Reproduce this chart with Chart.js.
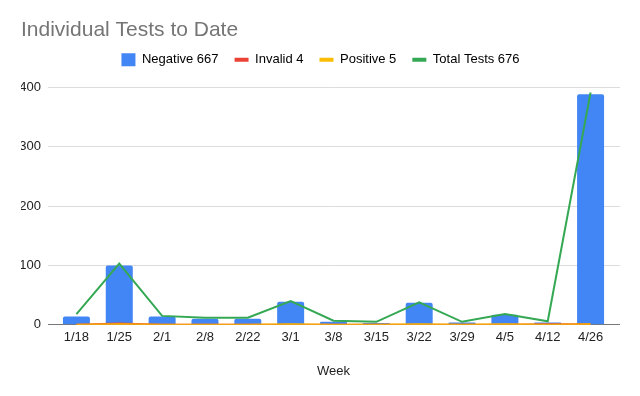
<!DOCTYPE html>
<html>
<head>
<meta charset="utf-8">
<script src="https://cdn.jsdelivr.net/npm/chart.js@4"></script>
<style>
  body { margin: 0; background: #fff; }
  #wrap { width: 640px; height: 396px; }
</style>
</head>
<body>
<div id="wrap"><canvas id="js--chart"></canvas></div>
<script>
// weeks and counts
const weeks = ["1/18", "1/25", "2/1", "2/8", "2/22", "3/1", "3/8", "3/15", "3/22", "3/29", "4/5", "4/12", "4/26"];
const negative = [14, 100, 14, 10, 10, 39, 5, 3, 37, 4, 17, 4, 388];
const invalid = [0, 2, 0, 0, 0, 0, 0, 0, 0, 0, 0, 1, 1];
const positive = [0, 1, 0, 0, 0, 1, 0, 0, 1, 0, 1, 0, 1];
const totalTests = [18, 103, 15, 12, 12, 40, 7, 5, 38, 5, 18, 6, 391];
const yTicks = [0, 100, 200, 300, 400];

Chart.defaults.font.family = "'Liberation Sans', Arial, sans-serif";
Chart.defaults.color = "#222";

function lineSet(label, values, color, order) {
  return {
    type: 'line',
    label: label,
    data: values,
    borderColor: color,
    backgroundColor: color,
    borderWidth: 2,
    pointRadius: 0,
    tension: 0,
    order: order
  };
}

function gridColor(ctx) {
  return ctx.tick && ctx.tick.value === 0 ? '#777' : '#dcdcdc';
}

const data = {
  labels: weeks,
  datasets: [
    {
      type: 'bar',
      label: 'Negative 667',
      data: negative,
      backgroundColor: '#4285f4',
      borderRadius: 2,
      categoryPercentage: 1,
      barPercentage: 0.63,
      order: 5
    },
    lineSet('Invalid 4', invalid, '#ea4335', 3),
    lineSet('Positive 5', positive, '#fbbc04', 2),
    lineSet('Total Tests 676', totalTests, '#34a853', 1)
  ]
};

// push the plot down a bit below the legend
const legendGap = {
  id: 'legendGap',
  beforeInit(chart) {
    const fit = chart.legend.fit;
    chart.legend.fit = function() {
      fit.bind(chart.legend)();
      this.height += 11;
    };
  }
};

const config = {
  type: 'bar',
  data: data,
  plugins: [legendGap],
  options: {
    responsive: true,
    maintainAspectRatio: false,
    animation: false,
    layout: { padding: { left: 21, right: 20, top: 0, bottom: 13 } },
    plugins: {
      title: {
        display: true,
        text: 'Individual Tests to Date',
        align: 'start',
        color: '#757575',
        font: { size: 21, weight: 'normal' },
        padding: { top: 18, bottom: -6 }
      },
      legend: {
        labels: {
          usePointStyle: true,
          pointStyleWidth: 14,
          font: { size: 13 },
          color: '#222',
          padding: 16,
          generateLabels: function(chart) {
            return chart.data.datasets.map((ds, i) => ({
              text: ds.label,
              fillStyle: ds.backgroundColor,
              strokeStyle: ds.type === 'bar' ? ds.backgroundColor : ds.borderColor,
              lineWidth: ds.type === 'bar' ? 0 : 4,
              pointStyle: ds.type === 'bar' ? 'rect' : 'line',
              datasetIndex: i,
              hidden: false
            }));
          }
        }
      },
      tooltip: { enabled: false }
    },
    scales: {
      x: {
        grid: { display: false, drawTicks: false },
        border: { display: false },
        ticks: { font: { size: 13 }, color: '#222', maxRotation: 0, autoSkip: false, padding: 5 },
        title: { display: true, text: 'Week', font: { size: 13 }, color: '#222', padding: { top: 13, bottom: 4 } }
      },
      y: {
        min: 0,
        max: 400,
        afterBuildTicks: function(axis) {
          axis.ticks = yTicks.map(v => ({ value: v }));
        },
        afterFit: function(axis) { axis.width = 34; },
        grid: { color: gridColor, tickLength: 7 },
        border: { display: false },
        ticks: { font: { size: 13 }, color: '#222', padding: 7 }
      },
      y2: {
        position: 'right',
        min: 0,
        max: 400,
        afterBuildTicks: function(axis) {
          axis.ticks = yTicks.map(v => ({ value: v }));
        },
        afterFit: function(axis) { axis.width = 8; },
        grid: { color: gridColor, tickLength: 8, drawOnChartArea: false },
        border: { display: false },
        ticks: { display: false }
      }
    }
  }
};

const chart1 = new Chart(document.getElementById("js--chart"), config);
</script>
</body>
</html>
